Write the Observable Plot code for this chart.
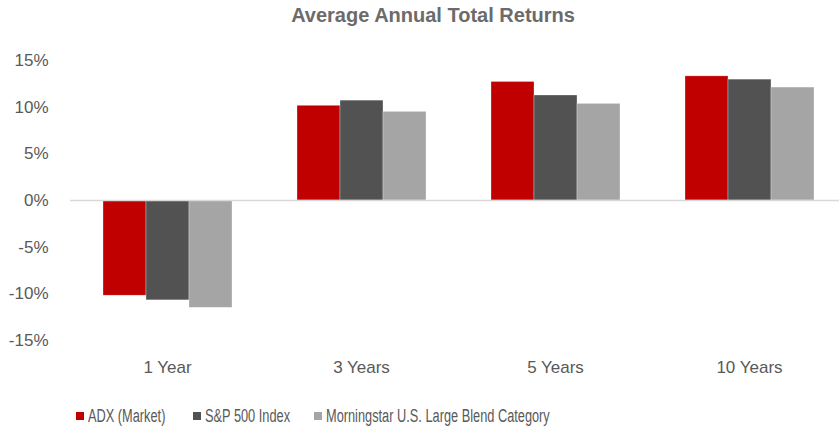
<!DOCTYPE html>
<html>
<head>
<meta charset="utf-8">
<script src="https://cdn.jsdelivr.net/npm/d3@7"></script>
<script src="https://cdn.jsdelivr.net/npm/@observablehq/plot@0.6"></script>
<style>
  html, body { margin: 0; padding: 0; background: #fff; }
  #wrap { position: relative; width: 839px; height: 427px; overflow: hidden; font-family: "Liberation Sans", Arial, sans-serif; color: #595959; }
  #title { position: absolute; left: 0; top: 4px; width: 866px; text-align: center; font-family: "Liberation Sans", Arial, sans-serif; font-weight: bold; font-size: 20px; color: #6b6b6b; }
  #chart { position: absolute; left: 0; top: 40px; }
  #legend { position: absolute; left: 0; top: 404px; width: 839px; height: 24px; font-size: 18px; }
  .item { position: absolute; top: 0; white-space: nowrap; line-height: 24px; }
  .sw { position: absolute; left: 0; top: 8px; width: 8px; height: 8px; }
  .tx { position: absolute; left: 12px; top: 0; display: inline-block; transform: scaleX(0.71); transform-origin: 0 50%; }
</style>
</head>
<body>
<div id="wrap">
  <div id="title">Average Annual Total Returns</div>
  <div id="chart"></div>
  <div id="legend"></div>
</div>
<script>
const categories = ["1 Year", "3 Years", "5 Years", "10 Years"];
const series = ["ADX (Market)", "S&P 500 Index", "Morningstar U.S. Large Blend Category"];
const adx = [-10.2, 10.15, 12.7, 13.3];
const sp500 = [-10.7, 10.7, 11.25, 12.95];
const morningstar = [-11.5, 9.5, 10.35, 12.1];
const yTicks = [-15, -10, -5, 0, 5, 10, 15];
const colors = ["#c00000", "#525252", "#a5a5a5"];

const seriesValues = [adx, sp500, morningstar];
const data = [];
categories.forEach((c, i) => {
  series.forEach((s, j) => data.push({category: c, series: s, value: seriesValues[j][i]}));
});

const chart = Plot.plot({
  width: 839,
  height: 350,
  marginTop: 20,
  marginBottom: 50,
  marginLeft: 70,
  marginRight: -7,
  style: {fontFamily: '"Liberation Sans", Arial, sans-serif', fontSize: "17px", color: "#595959", background: "white"},
  fx: {domain: categories, padding: 0, label: null, tickSize: 0, tickPadding: 20},
  x: {domain: series, paddingInner: 0, paddingOuter: 0.73, axis: null},
  y: {domain: [-15, 15], ticks: yTicks, tickFormat: d => d + "%", label: null, tickSize: 0, tickPadding: 22},
  color: {domain: series, range: colors},
  marks: [
    Plot.barY(data, {fx: "category", x: "series", y: "value", fill: "series", stroke: "white", strokeOpacity: 0.5, strokeWidth: 0.6}),
    Plot.ruleY([0], {stroke: "#d9d9d9", strokeWidth: 1.5})
  ]
});
document.getElementById("chart").appendChild(chart);

const legend = document.getElementById("legend");
const lefts = [76, 193, 314];
series.forEach((s, j) => {
  const it = document.createElement("div");
  it.className = "item";
  it.style.left = lefts[j] + "px";
  const sw = document.createElement("span");
  sw.className = "sw";
  sw.style.background = colors[j];
  it.appendChild(sw);
  const tx = document.createElement("span");
  tx.className = "tx";
  tx.textContent = s;
  it.appendChild(tx);
  legend.appendChild(it);
});
</script>
</body>
</html>
